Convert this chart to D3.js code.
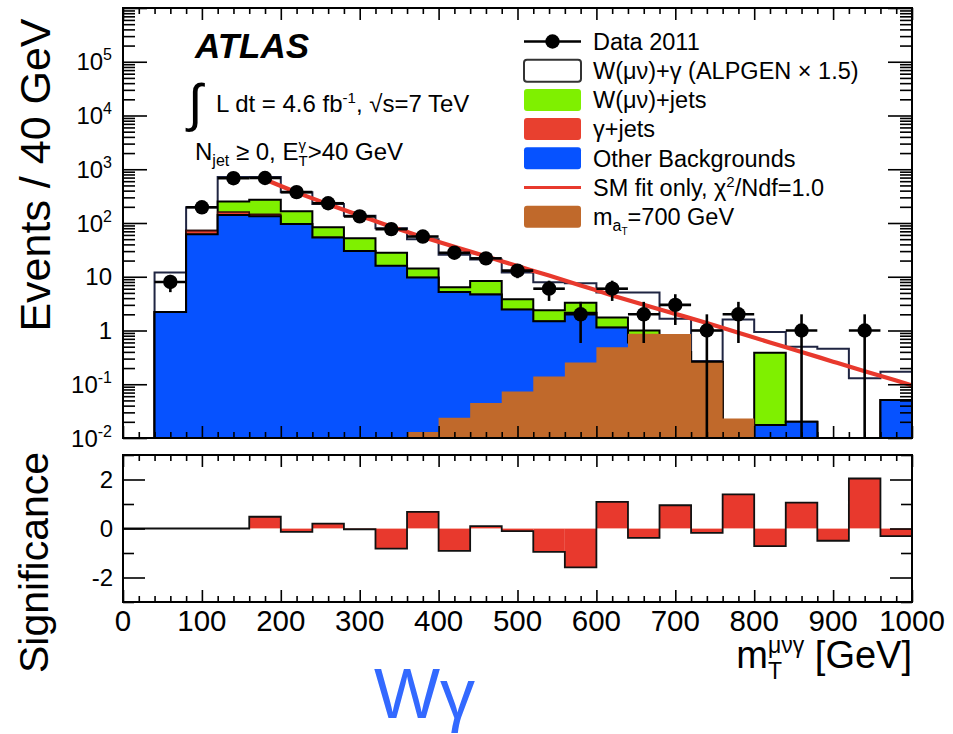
<!DOCTYPE html>
<html>
<head>
<meta charset="utf-8">
<script src="https://cdn.jsdelivr.net/npm/d3@7"></script>
<style>
  html, body { margin: 0; padding: 0; background: #fff; }
  svg { display: block; }
  text { white-space: pre; }
</style>
</head>
<body>
<svg id="chart" width="953" height="734"></svg>
<script>
// ---- Binning (GeV) ----
const binWidth = 40;
const binLow = [40, 80, 120, 160, 200, 240, 280, 320, 360, 400, 440, 480,
                520, 560, 600, 640, 680, 720, 760, 800, 840, 880, 920, 960];

// ---- Observed events per bin ----
const dataCounts = [8, 196, 682, 688, 375, 233, 133, 77, 56, 28, 22, 13,
                    6, 2, 6, 2, 3, 1, 2, 0, 1, 0, 1, 0];

// ---- Stacked expectation, per component ----
const otherBkg  = [2.2, 62, 141, 133, 96, 54, 30, 16, 9.7, 5.2, 4.7, 2.46,
                   1.49, 2.14, 1.14, 0.6, 0.4, 0.26, 0, 0.0175, 0.02, 0, 0, 0.051];
const gammaJets = [0, 10, 19, 12, 0, 0, 0, 0, 0, 0, 0, 0,
                   0, 0, 0, 0, 0, 0, 0, 0, 0, 0, 0, 0];
const wJets     = [0, 0, 90, 125, 69, 29, 22, 12, 4.5, 1.2, 3.6, 1.34,
                   0.88, 1.16, 0.61, 0.4, 0, 0, 0, 0.37, 0, 0, 0, 0];
const wGamma    = [9.8, 124, 464, 444, 210, 143, 85, 52, 35.8, 19.3, 12.7, 8.2,
                   5.53, 4.3, 3.35, 4.1, 1.25, 0.01, 1.6, 0.55, 0.48, 0.46, 0.13, 0.12];

// ---- Technicolor a_T (700 GeV) signal, overlaid ----
const signal700 = [0, 0, 0, 0, 0, 0, 0, 0, 0.013, 0.0237, 0.045, 0.073,
                   0.14, 0.255, 0.49, 0.87, 0.86, 0.25, 0.023, 0, 0, 0, 0, 0];

// ---- SM-only fit curve, sampled ----
const fitMass  = [180, 220, 260, 300, 340, 380, 420, 460, 500, 540, 580, 620,
                  660, 700, 740, 780, 820, 860, 900, 940, 980, 1000];
const fitValue = [646, 372, 224, 138, 85, 55, 36, 24, 15.8, 10.5, 6.9, 4.5,
                  3.0, 2.04, 1.38, 0.91, 0.60, 0.40, 0.263, 0.174, 0.117, 0.095];

// ---- Significance per bin (lower panel) ----
const sigLow = [0, 40, 80, 120, 160, 200, 240, 280, 320, 360, 400, 440, 480,
                520, 560, 600, 640, 680, 720, 760, 800, 840, 880, 920, 960];
const significance = [0, 0, 0, 0, 0.48, -0.14, 0.2, -0.03, -0.82, 0.68, -0.91, 0.1, -0.11,
                      -0.95, -1.59, 1.09, -0.38, 0.95, -0.18, 1.39, -0.72, 1.06, -0.5, 2.04, -0.31];

// ---- Tick labels ----
const xTickValues = [0, 100, 200, 300, 400, 500, 600, 700, 800, 900, 1000];
const xTickLabels = ["0", "100", "200", "300", "400", "500", "600", "700", "800", "900", "1000"];
const yTickValues = [1e-2, 1e-1, 1, 10, 1e2, 1e3, 1e4, 1e5];
const yTickLabels = ["10^{-2}", "10^{-1}", "1", "10", "10^{2}", "10^{3}", "10^{4}", "10^{5}"];
const sigTickValues = [-2, 0, 2];
const sigTickLabels = ["-2", "0", "2"];

// ---- Legend ----
const legendLabels = ["Data 2011", "W(μν)+γ (ALPGEN × 1.5)", "W(μν)+jets", "γ+jets",
                      "Other Backgrounds", "SM fit only, χ²/Ndf=1.0", "m_a_T=700 GeV"];

// =====================================================================
const FONT = '"Liberation Sans", Arial, Helvetica, sans-serif';
const COL = {
  wgamma: "#ffffff", wgLine: "#1f2542",
  wjets: "#7ff000", gjets: "#e8402f", other: "#0652ff",
  signal: "#c0692b", fit: "#e8392d", sigBar: "#e8392d"
};

const svg = d3.select("#chart").attr("font-family", FONT);

const left = 123, right = 912;
const topT = 8, topB = 438;
const botT = 455, botB = 602;

const x  = d3.scaleLinear().domain([0, 1000]).range([left, right]);
const y  = d3.scaleLog().domain([1e-2, 1e6]).range([topB, topT]);
const ys = d3.scaleLinear().domain([-3, 3]).range([botB, botT]);

const defs = svg.append("defs");
defs.append("clipPath").attr("id", "clipTop").append("rect")
  .attr("x", left).attr("y", topT).attr("width", right - left).attr("height", topB - topT);
defs.append("clipPath").attr("id", "clipBot").append("rect")
  .attr("x", left).attr("y", botT).attr("width", right - left).attr("height", botB - botT);

const floorV = 1e-3;
function histPath(lows, vals) {
  const pts = [[x(lows[0]), y(floorV)]];
  lows.forEach((lo, i) => {
    const v = Math.max(vals[i], floorV);
    pts.push([x(lo), y(v)], [x(lo + binWidth), y(v)]);
  });
  pts.push([x(lows[lows.length - 1] + binWidth), y(floorV)]);
  return d3.line()(pts);
}

// cumulative stack
const cumOther = otherBkg.slice();
const cumGJ = cumOther.map((v, i) => v + gammaJets[i]);
const cumWJ = cumGJ.map((v, i) => v + wJets[i]);
const cumAll = cumWJ.map((v, i) => v + wGamma[i]);

// ---------------- upper panel ----------------
const gTop = svg.append("g").attr("clip-path", "url(#clipTop)");

gTop.append("path").attr("d", histPath(binLow, cumAll))
  .attr("fill", COL.wgamma).attr("stroke", COL.wgLine).attr("stroke-width", 2);
gTop.append("path").attr("d", histPath(binLow, cumWJ))
  .attr("fill", COL.wjets).attr("stroke", "#000").attr("stroke-width", 2);
gTop.append("path").attr("d", histPath(binLow, cumGJ))
  .attr("fill", COL.gjets).attr("stroke", "#3a0c08").attr("stroke-width", 1.6);
gTop.append("path").attr("d", histPath(binLow, cumOther))
  .attr("fill", COL.other).attr("stroke", "#000").attr("stroke-width", 2);
gTop.append("path").attr("d", histPath(binLow, signal700))
  .attr("fill", COL.signal).attr("stroke", "none");

// fit curve
const fitPts = fitMass.map((m, i) => [m, fitValue[i]]);
gTop.append("path").datum(fitPts)
  .attr("d", d3.line().x(d => x(d[0])).y(d => y(d[1])).curve(d3.curveMonotoneX))
  .attr("fill", "none").attr("stroke", COL.fit).attr("stroke-width", 4.2);

// data points with sqrt(N) errors
const pts = binLow.map((lo, i) => ({ lo, n: dataCounts[i] })).filter(d => d.n > 0);
const gData = gTop.append("g").attr("stroke", "#000").attr("stroke-width", 2.6);
gData.selectAll("line.v").data(pts).join("line").attr("class", "v")
  .attr("x1", d => x(d.lo + binWidth / 2)).attr("x2", d => x(d.lo + binWidth / 2))
  .attr("y1", d => y(Math.max(d.n - Math.sqrt(d.n), floorV)))
  .attr("y2", d => y(d.n + Math.sqrt(d.n)));
gData.selectAll("line.h").data(pts).join("line").attr("class", "h")
  .attr("x1", d => x(d.lo)).attr("x2", d => x(d.lo + binWidth))
  .attr("y1", d => y(d.n)).attr("y2", d => y(d.n));
gData.selectAll("circle").data(pts).join("circle")
  .attr("cx", d => x(d.lo + binWidth / 2)).attr("cy", d => y(d.n))
  .attr("r", 7.2).attr("fill", "#000").attr("stroke", "none");

// ---------------- lower panel ----------------
const gBot = svg.append("g").attr("clip-path", "url(#clipBot)");
gBot.selectAll("rect").data(sigLow.map((lo, i) => ({ lo, s: significance[i] })))
  .join("rect")
  .attr("x", d => x(d.lo)).attr("width", d => x(d.lo + binWidth) - x(d.lo))
  .attr("y", d => ys(Math.max(d.s, 0))).attr("height", d => Math.abs(ys(d.s) - ys(0)))
  .attr("fill", COL.sigBar);
gBot.append("line").attr("x1", x(0)).attr("x2", x(1000)).attr("y1", ys(0)).attr("y2", ys(0))
  .attr("stroke", "#f6b3aa").attr("stroke-width", 1.2);
const sigPts = [];
sigLow.forEach((lo, i) => { sigPts.push([x(lo), ys(significance[i])], [x(lo + binWidth), ys(significance[i])]); });
gBot.append("path").attr("d", d3.line()(sigPts))
  .attr("fill", "none").attr("stroke", "#111").attr("stroke-width", 1.8);

// ---------------- axes (inward ticks, all four sides) ----------------
function ticks(axisFn, scale, values, size, tx, ty) {
  svg.append("g").attr("transform", `translate(${tx},${ty})`)
    .call(axisFn(scale).tickValues(values).tickSize(size).tickFormat(""))
    .call(g => g.select(".domain").remove())
    .call(g => g.selectAll("line").attr("stroke", "#000").attr("stroke-width", 1.6));
}
const xMajor = d3.range(0, 1001, 100);
const xMinor = d3.range(0, 1001, 20).filter(v => v % 100 !== 0);
[[topB, d3.axisBottom], [topT, d3.axisTop], [botB, d3.axisBottom], [botT, d3.axisTop]].forEach(([yy, fn]) => {
  ticks(fn, x, xMajor, -12, 0, yy);
  ticks(fn, x, xMinor, -6, 0, yy);
});
const isPow10 = v => Math.abs(Math.log10(v) - Math.round(Math.log10(v))) < 1e-9;
const yMajor = y.ticks().filter(isPow10);
const yMinor = y.ticks().filter(v => !isPow10(v));
ticks(d3.axisLeft, y, yMajor, -24, left, 0);
ticks(d3.axisLeft, y, yMinor, -12, left, 0);
ticks(d3.axisRight, y, yMajor, -24, right, 0);
ticks(d3.axisRight, y, yMinor, -12, right, 0);
ticks(d3.axisLeft, ys, [-2, 0, 2], -22, left, 0);
ticks(d3.axisLeft, ys, [-3, -1, 1, 3], -11, left, 0);
ticks(d3.axisRight, ys, [-2, 0, 2], -22, right, 0);
ticks(d3.axisRight, ys, [-3, -1, 1, 3], -11, right, 0);

// frames
svg.append("rect").attr("x", left).attr("y", topT).attr("width", right - left).attr("height", topB - topT)
  .attr("fill", "none").attr("stroke", "#000").attr("stroke-width", 2);
svg.append("rect").attr("x", left).attr("y", botT).attr("width", right - left).attr("height", botB - botT)
  .attr("fill", "none").attr("stroke", "#000").attr("stroke-width", 2);

// ---------------- labels ----------------
const gLab = svg.append("g").attr("fill", "#000");

// x tick labels
gLab.selectAll("text.xl").data(xTickValues).join("text").attr("class", "xl")
  .attr("x", d => x(d)).attr("y", 631).attr("text-anchor", "middle")
  .attr("font-size", 29.5).text((d, i) => xTickLabels[i]);

// y tick labels (log, with exponents)
yTickValues.forEach((v, i) => {
  const m = yTickLabels[i].match(/^([^\^]+)(?:\^\{(.+)\})?$/);
  const t = gLab.append("text").attr("x", 112).attr("y", y(v) + 8.5)
    .attr("text-anchor", "end").attr("font-size", 24);
  t.append("tspan").text(m[1]);
  if (m[2]) t.append("tspan").attr("font-size", 16).attr("dy", -10).text(m[2]);
});

// significance tick labels
sigTickValues.forEach((v, i) => {
  gLab.append("text").attr("x", 113).attr("y", ys(v) + 8.5)
    .attr("text-anchor", "end").attr("font-size", 24).text(sigTickLabels[i]);
});

// axis titles
gLab.append("text").attr("transform", `translate(50,${(topT + topB) / 2 - 48}) rotate(-90)`)
  .attr("text-anchor", "middle").attr("font-size", 43).text("Events / 40 GeV");
gLab.append("text").attr("transform", `translate(48,${(botT + botB) / 2 + 34}) rotate(-90)`)
  .attr("text-anchor", "middle").attr("font-size", 41).text("Significance");

// sequential rich-text layout: parts may hold position for stacked sub/superscripts
function rich(g, x0, y0, base, parts) {
  let cx = x0, holdW = 0;
  parts.forEach(p => {
    const el = g.append("text").attr("x", cx).attr("y", y0 + (p.dy || 0))
      .attr("font-size", p.fs || base).text(p.t);
    if (p.fw) el.attr("font-weight", p.fw);
    if (p.fst) el.attr("font-style", p.fst);
    const w = el.node().getComputedTextLength();
    if (p.hold) { holdW = w; }
    else { cx += Math.max(w, holdW); holdW = 0; }
  });
  return cx;
}

// x axis title, right aligned to the frame
const gXT = gLab.append("g");
const xtEnd = rich(gXT, 0, 668, 38, [
  { t: "m" }, { t: "μνγ", fs: 23, dy: -15, hold: true }, { t: "T", fs: 23, dy: 11 }, { t: " [GeV]" }
]);
gXT.attr("transform", `translate(${right - xtEnd},0)`);

// ATLAS block
gLab.append("text").attr("x", 195).attr("y", 58).attr("font-size", 35)
  .attr("font-weight", "bold").attr("font-style", "italic").text("ATLAS");
gLab.append("text").attr("x", 188).attr("y", 121).attr("font-size", 52).text("∫");
rich(gLab, 216, 112, 24, [
  { t: "L dt = 4.6 fb" }, { t: "-1", fs: 15, dy: -9 }, { t: ", √s=7 TeV" }
]);
rich(gLab, 195, 160, 24, [
  { t: "N" }, { t: "jet", fs: 16, dy: 6 }, { t: " ≥ 0, E" },
  { t: "γ", fs: 15, dy: -10, hold: true }, { t: "T", fs: 15, dy: 6 }, { t: ">40 GeV" }
]);

// ---------------- legend ----------------
const gLeg = svg.append("g");
const lx0 = 524, lx1 = 581, ltx = 593;
const rowY = legendLabels.map((_, i) => 41.5 + 29.2 * i);
const boxFill = [null, COL.wgamma, COL.wjets, COL.gjets, COL.other, null, COL.signal];

// data marker
gLeg.append("line").attr("x1", lx0).attr("x2", lx1).attr("y1", rowY[0]).attr("y2", rowY[0])
  .attr("stroke", "#000").attr("stroke-width", 2.6);
gLeg.append("circle").attr("cx", (lx0 + lx1) / 2).attr("cy", rowY[0]).attr("r", 7.2).attr("fill", "#000");
// filled boxes
[1, 2, 3, 4, 6].forEach(i => {
  gLeg.append("rect").attr("x", lx0).attr("y", rowY[i] - 11).attr("width", lx1 - lx0).attr("height", 22)
    .attr("rx", 3).attr("fill", boxFill[i])
    .attr("stroke", i === 1 ? "#333" : "none").attr("stroke-width", 2);
});
// fit line
gLeg.append("line").attr("x1", lx0).attr("x2", lx1).attr("y1", rowY[5]).attr("y2", rowY[5])
  .attr("stroke", COL.fit).attr("stroke-width", 3.2);

const LFS = 23.5;
[0, 1, 2, 3, 4].forEach(i => {
  gLeg.append("text").attr("x", ltx).attr("y", rowY[i] + 8.3).attr("font-size", LFS).text(legendLabels[i]);
});
rich(gLeg, ltx, rowY[5] + 8.3, LFS, [
  { t: "SM fit only, χ" }, { t: "2", fs: 15, dy: -9 }, { t: "/Ndf=1.0" }
]);
rich(gLeg, ltx, rowY[6] + 8.3, LFS, [
  { t: "m" }, { t: "a", fs: 16, dy: 6 }, { t: "T", fs: 10, dy: 10 }, { t: "=700 GeV" }
]);

// channel tag
svg.append("text").attr("x", 374).attr("y", 718).attr("font-size", 70)
  .attr("fill", "#3369ff").text("Wγ");
</script>
</body>
</html>
